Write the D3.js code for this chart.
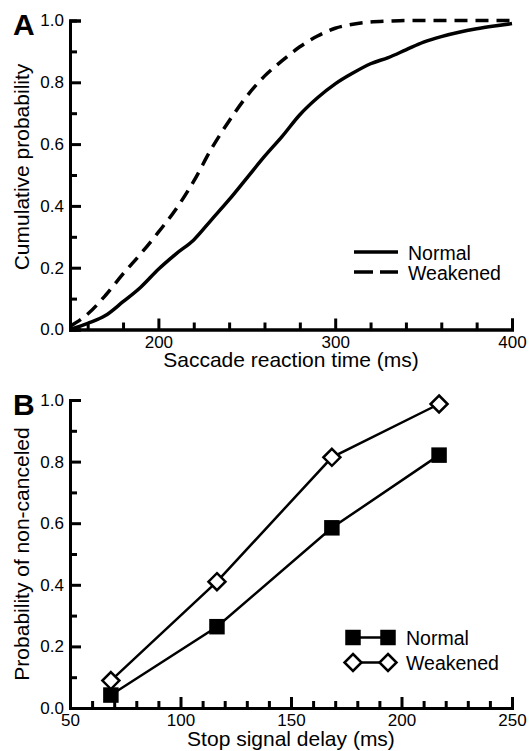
<!DOCTYPE html>
<html>
<head>
<meta charset="utf-8">
<script src="https://cdn.jsdelivr.net/npm/d3@7"></script>
<style>
  body { margin: 0; background: #fff; }
  svg { display: block; font-family: "Liberation Sans", Arial, sans-serif; }
</style>
</head>
<body>
<svg id="chart" width="529" height="751"></svg>
<script>
// panel A : cumulative distributions of saccade reaction time
const rtGrid     = [150, 160, 170, 180, 190, 200, 210, 220, 230, 240, 250, 260, 270, 280, 290, 300, 310, 320, 330, 340, 350, 360, 370, 380, 390, 400]
const probNormal = [0.0, 0.02, 0.045, 0.09, 0.137, 0.195, 0.245, 0.29, 0.355, 0.42, 0.49, 0.56, 0.625, 0.695, 0.75, 0.795, 0.83, 0.86, 0.88, 0.905, 0.93, 0.948, 0.962, 0.973, 0.982, 0.99]
const probWeak   = [0.01, 0.05, 0.11, 0.18, 0.245, 0.315, 0.39, 0.48, 0.585, 0.675, 0.755, 0.82, 0.87, 0.915, 0.95, 0.975, 0.988, 0.995, 0.998, 1.0, 1.0, 1.0, 1.0, 1.0, 1.0, 1.0]
const seriesA    = ["Normal", "Weakened"]

// panel B : probability of non-canceled saccades
const stopDelay  = [68.5, 116.5, 168.5, 217]
const ncNormal   = [0.042, 0.264, 0.585, 0.821]
const ncWeak     = [0.089, 0.41, 0.814, 0.987]
const seriesB    = ["Normal", "Weakened"]

const probTicks  = [0, 0.2, 0.4, 0.6, 0.8, 1.0]
const probMinor  = [0.1, 0.3, 0.5, 0.7, 0.9]
const rtTicks    = [200, 300, 400]
const delayTicks = [50, 100, 150, 200, 250]

const svg = d3.select("#chart")

function drawAxes(g, x, y, xMajor, xMinor, xTitle, yTitle, letter, yTitleY) {
  const [x0, x1] = x.range()
  const [y0, y1] = y.range()

  // minor ticks (inward)
  g.append("g").attr("transform", `translate(0,${y0})`)
    .call(d3.axisBottom(x).tickValues(xMinor).tickSize(-7).tickFormat(""))
  g.append("g").attr("transform", `translate(${x0},0)`)
    .call(d3.axisLeft(y).tickValues(probMinor).tickSize(-7).tickFormat(""))

  // major ticks + labels
  g.append("g").attr("transform", `translate(0,${y0})`)
    .call(d3.axisBottom(x).tickValues(xMajor).tickSize(-11).tickPadding(6).tickFormat(d3.format("d")))
  g.append("g").attr("transform", `translate(${x0},0)`)
    .call(d3.axisLeft(y).tickValues(probTicks).tickSize(-11).tickPadding(6).tickFormat(d3.format(".1f")))

  g.selectAll(".domain").attr("stroke", "#000").attr("stroke-width", 3)
  g.selectAll(".tick line").attr("stroke", "#000").attr("stroke-width", 3)
  g.selectAll(".tick text").attr("fill", "#000").attr("font-size", 17)
    .attr("font-family", "'Liberation Sans', Arial, sans-serif")

  g.append("text")
    .attr("x", (x0 + x1) / 2).attr("y", y0 + 37.5)
    .attr("text-anchor", "middle").style("font-size", "21px")
    .text(xTitle)

  g.append("text")
    .attr("transform", `translate(29,${yTitleY}) rotate(-90)`)
    .attr("text-anchor", "middle").style("font-size", "21px")
    .text(yTitle)

  g.append("text")
    .attr("x", 13).attr("y", y1 + 14.5)
    .style("font-size", "30px").style("font-weight", "bold")
    .text(letter)
}

// ---------- PANEL A
const xA = d3.scaleLinear().domain([150, 400]).range([70, 512])
const yA = d3.scaleLinear().domain([0, 1]).range([329.5, 20.5])
const gA = svg.append("g")

drawAxes(gA, xA, yA, rtTicks, d3.range(160, 400, 20).filter(d => d % 100 !== 0),
  "Saccade reaction time (ms)", "Cumulative probability", "A", 167)

const lineA = d3.line().x(d => xA(d[0])).y(d => yA(d[1])).curve(d3.curveMonotoneX)

gA.append("path")
  .datum(d3.zip(rtGrid, probNormal))
  .attr("d", lineA)
  .attr("fill", "none").attr("stroke", "#000").attr("stroke-width", 3.5)

gA.append("path")
  .datum(d3.zip(rtGrid, probWeak))
  .attr("d", lineA)
  .attr("fill", "none").attr("stroke", "#000").attr("stroke-width", 3.5)
  .attr("stroke-dasharray", "13,8")

// legend A
const legA = gA.append("g")
seriesA.forEach((s, i) => {
  const ly = 252 + i * 20
  legA.append("line")
    .attr("x1", 354).attr("x2", 398).attr("y1", ly).attr("y2", ly)
    .attr("stroke", "#000").attr("stroke-width", 3.5)
    .attr("stroke-dasharray", i === 0 ? null : "19,7")
  legA.append("text")
    .attr("x", 408).attr("y", ly + 8)
    .style("font-size", "19.5px")
    .text(s)
})

// ---------- PANEL B
const xB = d3.scaleLinear().domain([50, 250]).range([70, 512])
const yB = d3.scaleLinear().domain([0, 1]).range([708, 400])
const gB = svg.append("g")

drawAxes(gB, xB, yB, delayTicks, d3.range(60, 250, 10).filter(d => d % 50 !== 0),
  "Stop signal delay (ms)", "Probability of non-canceled", "B", 554)

const lineB = d3.line().x(d => xB(d[0])).y(d => yB(d[1]))
const dataB = [d3.zip(stopDelay, ncNormal), d3.zip(stopDelay, ncWeak)]

dataB.forEach(pts => {
  gB.append("path")
    .datum(pts)
    .attr("d", lineB)
    .attr("fill", "none").attr("stroke", "#000").attr("stroke-width", 2.5)
})

const square = d3.symbol().type(d3.symbolSquare).size(15.5 * 15.5)
const diamond = "M0,-8.5L8.5,0L0,8.5L-8.5,0Z"

function marker(g, kind, cx, cy) {
  if (kind === 0) {
    g.append("path").attr("d", square())
      .attr("transform", `translate(${cx},${cy})`)
      .attr("fill", "#000")
  } else {
    g.append("path").attr("d", diamond)
      .attr("transform", `translate(${cx},${cy})`)
      .attr("fill", "#fff").attr("stroke", "#000").attr("stroke-width", 2.5)
  }
}

dataB.forEach((pts, k) => {
  pts.forEach(d => marker(gB, k, xB(d[0]), yB(d[1])))
})

// legend B
const legB = gB.append("g")
seriesB.forEach((s, i) => {
  const ly = 637.5 + i * 25
  legB.append("line")
    .attr("x1", 353).attr("x2", 388).attr("y1", ly).attr("y2", ly)
    .attr("stroke", "#000").attr("stroke-width", 2.5)
  marker(legB, i, 353, ly)
  marker(legB, i, 388, ly)
  legB.append("text")
    .attr("x", 406).attr("y", ly + 7)
    .style("font-size", "19.5px")
    .text(s)
})
</script>
</body>
</html>
